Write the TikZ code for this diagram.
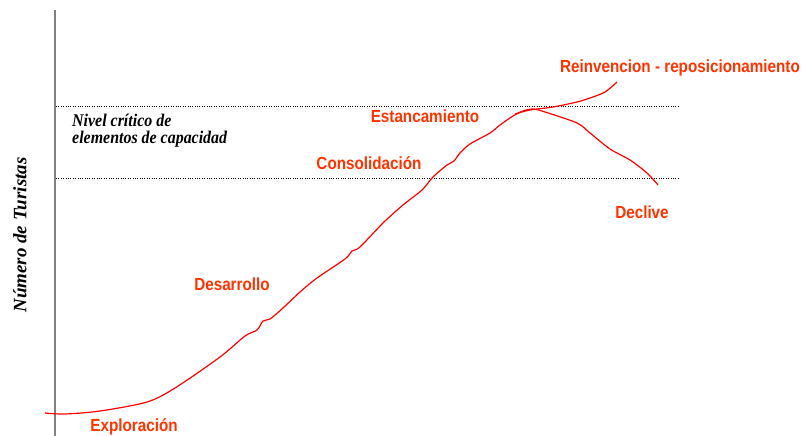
\documentclass[tikz,border=0pt]{standalone}
\usepackage{fontspec}
\setmainfont{Liberation Serif}
\newfontfamily\arialfont{Liberation Sans}
\usepackage{tikz}
\definecolor{stagered}{RGB}{255,51,0}
\definecolor{curvered}{RGB}{255,0,0}
\newcommand{\tall}[2]{\scalebox{1}[#1]{#2}}
\tikzset{
    stage/.style={text=stagered, inner sep=0pt, font=\arialfont\bfseries\fontsize{15.3}{18}\selectfont},
    level/.style={dotted, thin},
    curve/.style={curvered, line width=1.2bp, line join=round}
}

\begin{document}
\begin{tikzpicture}[x=1bp, y=-1bp]
        \useasboundingbox (0,0) rectangle (803,436);
        % axis
        \draw[gray, line width=2bp] (55,10) -- (55,436);
        % critical levels
        \coordinate (hiL) at (56,106);
        \coordinate (hiR) at (680,106);
        \coordinate (loL) at (56,178);
        \coordinate (loR) at (680,178);
        \draw[level] (hiL) -- (hiR);
        \draw[level] (loL) -- (loR);
        % growth curve
        \draw[curve] plot[smooth, tension=0.5] coordinates {
            (45,413) (65,414) (100,411) (147,402) (175,388) (220,357)
            (245,336) (257,330) (263,321) (270,319) (283,308) (300,292)
            (317,278) (345,259) (352,251) (360,247) (383,223) (403,205)
            (422,190) (433,177) (447,165) (454,161) (460,153) (470,144)
            (490,133) (500,125) (513,116) (523,111) (533,109) (545,112)
            (577,123) (590,133) (610,149) (630,160) (647,173) (658,185)};
        % reinvention branch
        \draw[curve] plot[smooth, tension=0.5] coordinates {
            (515,114) (530,110) (553,107) (577,102) (590,98) (605,92) (617,82)};
        % stages
        \node[stage] (explor) at (134,427) {\tall{1.15}{Exploración}};
        \node[stage] (desarr) at (232,284) {\tall{1.15}{Desarrollo}};
        \node[stage] (consol) at (369,163) {\tall{1.15}{Consolidación}};
        \node[stage] (estanc) at (425,116) {\tall{1.15}{Estancamiento}};
        \node[stage] (reinv) at (680,68) {\tall{1.15}{Reinvencion - reposicionamiento}};
        \node[stage] (decl) at (642,212) {\tall{1.15}{Declive}};
        % labels
        \node[anchor=west, align=left, inner sep=0pt, font=\bfseries\itshape\fontsize{16}{17}\selectfont] (nivel) at (72,131)
            {\tall{1.12}{Nivel crítico de}\\\tall{1.12}{elementos de capacidad}};
        \node[rotate=90, inner sep=0pt, font=\bfseries\itshape\fontsize{19}{22}\selectfont] (numero) at (20,235) {Número de Turistas};
    \end{tikzpicture}
\end{document}
